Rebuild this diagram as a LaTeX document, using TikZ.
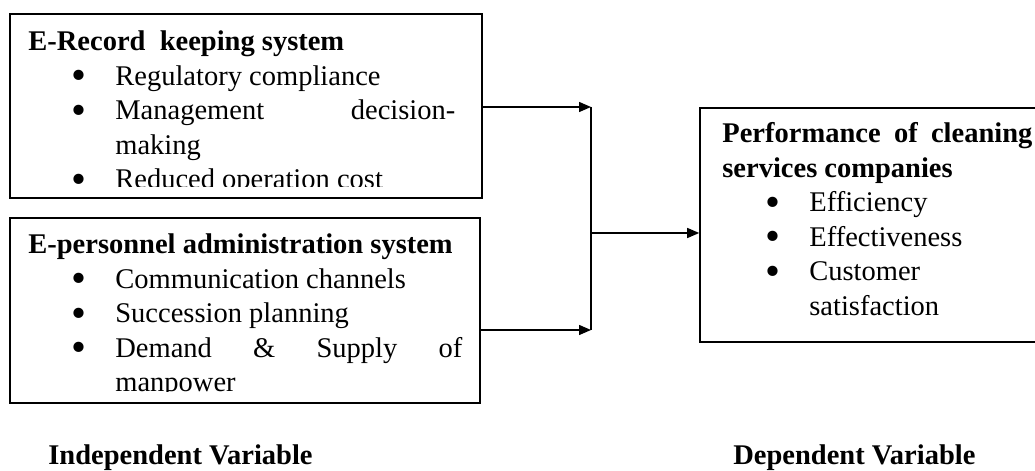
\documentclass[tikz,border=0pt]{standalone}
\usepackage{fontspec}
\usepackage{graphicx}
\setmainfont{Liberation Serif}
\usetikzlibrary{positioning, arrows.meta}
\newcommand{\bigdot}{\raisebox{-2.25pt}{\scalebox{1.5}{\textbullet}}}
\newcommand{\bul}[1]{\\\hspace*{21.5pt}\makebox[22pt][l]{\bigdot}#1}
\newcommand{\cont}[1]{\\\hspace*{43.5pt}#1}

\begin{document}
\begin{tikzpicture}[
  x=0.5pt, y=0.5pt,
  box/.style={draw, line width=0.8pt, inner sep=0pt},
  txt/.style={anchor=base west, align=left, inner sep=0pt,
    font=\fontsize{14.25}{17.25}\selectfont},
  lbl/.style={anchor=base west, inner sep=0pt,
    font=\fontsize{14.25}{17.25}\selectfont\bfseries},
  link/.style={line width=0.7pt},
  flow/.style={link, -{Triangle[length=6pt, width=5pt]}},
]
  \path[use as bounding box, clip] (0,0) rectangle (1035,471);

  % boxes
  \node[box, minimum width=236pt, minimum height=92pt]  (rec)  at (246,365)   {};
  \node[box, minimum width=235pt, minimum height=92.5pt] (pers) at (245,160.5) {};
  \node[box, minimum width=180pt, minimum height=117pt] (perf) at (880,246)   {};

  % text nodes sit on the baseline of their last line
  \begin{scope}
    \clip (10,284) rectangle (482,457);
    \node[txt] (rectxt) at (28,282)
      {\textbf{E-Record~ keeping system}
       \bul{Regulatory compliance}
       \bul{\makebox[170pt][s]{Management decision-}}
       \cont{making}
       \bul{Reduced operation cost}};
  \end{scope}

  \begin{scope}
    \clip (10,79) rectangle (480,253);
    \node[txt] (perstxt) at (28,79)
      {\textbf{E-personnel administration system}
       \bul{Communication channels}
       \bul{Succession planning}
       \bul{\makebox[173.5pt][s]{Demand \& Supply of}}
       \cont{manpower}};
  \end{scope}

  \node[txt] (perftxt) at (722,155.5)
    {\textbf{\makebox[155pt][s]{Performance of cleaning}}\\
     \textbf{services companies}
     \bul{Efficiency}
     \bul{Effectiveness}
     \bul{Customer}
     \cont{satisfaction}};

  % connectors
  \coordinate (ja) at (591,364);
  \coordinate (jb) at (591,141);
  \coordinate (jm) at (591,238);
  \draw[flow] (rec.east |- ja) -- (ja);
  \draw[flow] (pers.east |- jb) -- (jb);
  \draw[link] (ja) -- (jb);
  \draw[flow] (jm) -- (perf.west |- jm);

  \node[lbl] (indep) at (48,6)  {Independent Variable};
  \node[lbl] (dep)   at (733,6) {Dependent Variable};
\end{tikzpicture}
\end{document}
